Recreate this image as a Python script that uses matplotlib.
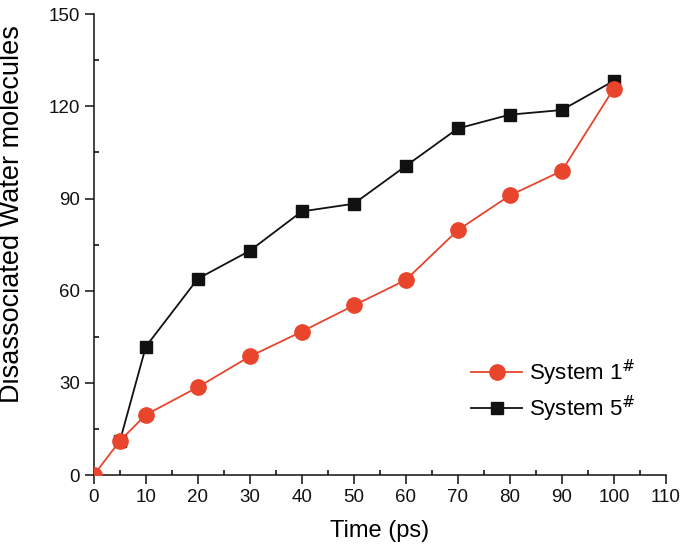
import matplotlib
matplotlib.use("Agg")
import matplotlib.pyplot as plt
from matplotlib.ticker import MultipleLocator

plt.rcParams['font.family'] = ['Liberation Sans', 'DejaVu Sans']

x_sys1 = [0, 5, 10, 20, 30, 40, 50, 60, 70, 80, 90, 100]
y_sys1 = [0, 11.1, 19.6, 28.6, 38.6, 46.7, 55.2, 63.5, 79.7, 91.0, 99.0, 125.8]
x_sys5 = [5, 10, 20, 30, 40, 50, 60, 70, 80, 90, 100]
y_sys5 = [11.0, 41.8, 63.9, 73.0, 85.8, 88.3, 100.6, 112.8, 117.3, 118.8, 128.3]

label1 = "System 1$^{\\#}$"
label5 = "System 5$^{\\#}$"

fig = plt.figure(figsize=(6.85, 5.46), dpi=100)
ax = fig.add_axes([0.137, 0.130, 0.835, 0.844])

red = '#E8452C'
ax.plot(x_sys5, y_sys5, color='#111111', lw=1.3, marker='s', markersize=8.5,
        markerfacecolor='#111111', markeredgecolor='#111111', label=label5, zorder=2)
ax.plot(x_sys1, y_sys1, color=red, lw=1.3, marker='o', markersize=11,
        markerfacecolor=red, markeredgecolor=red, label=label1, zorder=3)

ax.set_xlim(0, 110)
ax.set_ylim(0, 150)
ax.xaxis.set_major_locator(MultipleLocator(10))
ax.xaxis.set_minor_locator(MultipleLocator(5))
ax.yaxis.set_major_locator(MultipleLocator(30))
ax.yaxis.set_minor_locator(MultipleLocator(15))
ax.tick_params(which='major', direction='out', length=6.5, width=1.1, labelsize=13.5, colors='#111111')
ax.tick_params(which='minor', direction='in', length=3.8, width=1.1)
for s in ['top', 'right']:
    ax.spines[s].set_visible(False)
for s in ['left', 'bottom']:
    ax.spines[s].set_linewidth(1.1)
    ax.spines[s].set_color('#111111')

ax.set_xlabel('Time (ps)', fontsize=17)
ax.xaxis.set_label_coords(0.5, -0.097)
ax.set_ylabel('Disassociated Water molecules', fontsize=19.5)
ax.yaxis.set_label_coords(-0.121, 0.566)

h, l = ax.get_legend_handles_labels()
leg = ax.legend([h[1], h[0]], [l[1], l[0]], loc='center left', bbox_to_anchor=(0.625, 0.183),
                frameon=False, fontsize=16, handlelength=2.3, handletextpad=0.3,
                labelspacing=0.25)

fig.savefig('out.png', dpi=100)
